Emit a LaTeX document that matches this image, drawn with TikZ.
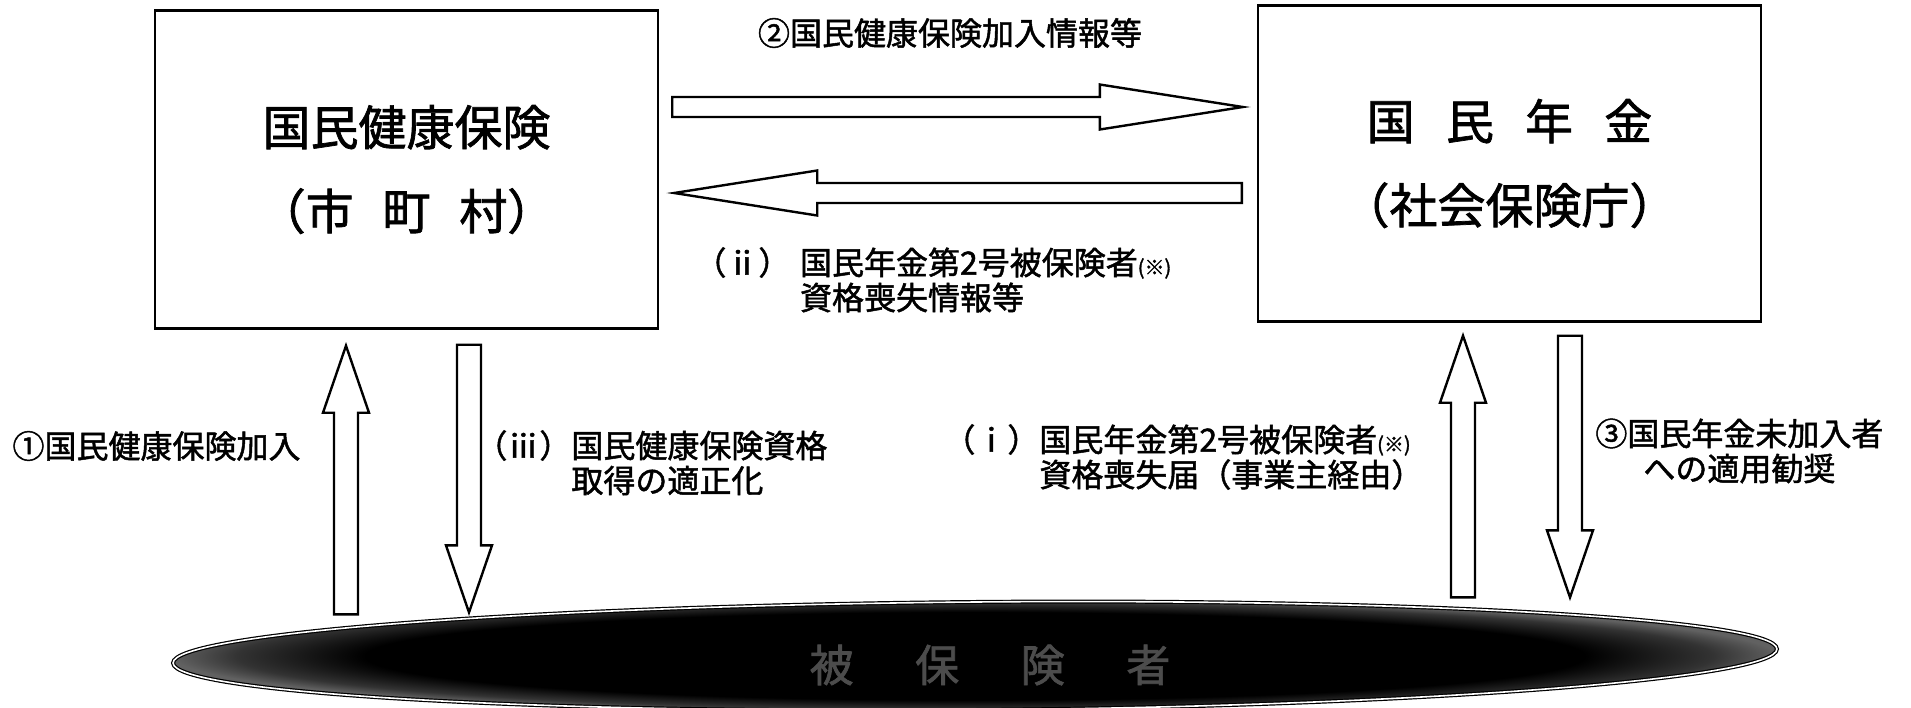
\documentclass[tikz,border=0pt]{standalone}
\usepackage{fontspec}
\setmainfont{Noto Sans CJK JP}[FakeBold=1.5]
\usetikzlibrary{calc,shapes.geometric}

\pgfdeclareradialshading{rim}{\pgfpoint{0bp}{0bp}}{color(0bp)=(black); color(19bp)=(black); color(23bp)=(black!80!white); color(25bp)=(black!62!white); color(50bp)=(black!62!white)}

\newcommand\fatarrow[5]{%
  \coordinate (hb) at ($(#2)!#5!(#1)$);
  \draw [fatarrow] ($(#1)!#3!90:(#2)$) -- ($(hb)!#3!90:(#2)$) -- ($(hb)!#4!90:(#2)$) -- (#2)
    -- ($(hb)!#4!-90:(#2)$) -- ($(hb)!#3!-90:(#2)$) -- ($(#1)!#3!-90:(#2)$) -- cycle;
}

\begin{document}
\begin{tikzpicture}[x=0.5pt, y=-0.5pt,
  orgbox/.style={draw, line width=1.2pt, minimum width=251.5pt, minimum height=159pt, align=center, inner sep=0pt, font=\fontsize{24}{42}\selectfont},
  fatarrow/.style={draw, fill=white, line width=1.2pt, line join=miter},
  note/.style={inner sep=0pt, align=left, font=\fontsize{16}{17.5}\selectfont}]

\useasboundingbox (0,0) rectangle (1911,707);

\node [orgbox] (nhi) at (406.5,169.5) {国民健康保険\\（市\hskip.6em町\hskip.6em村）};
\node [orgbox, minimum height=158pt] (npn) at (1509.5,163.5) {国\hskip.65em民\hskip.65em年\hskip.65em金\\（社会保険庁）};

\node [ellipse, draw=black, line width=.6pt, double=white, double distance=.8pt, shading=rim, minimum width=802pt, minimum height=54pt, inner sep=0pt, rotate=.5] (insd) at (975,656) {};
\node [font=\fontsize{22}{22}\selectfont, text=black!70!white, inner sep=0pt] (insdtxt) at ($(insd.center)+(15,9)$) {被\hskip1.4em保\hskip1.4em険\hskip1.4em者};

\coordinate (a2s) at ($(nhi.east)+(13,-62.5)$);
\coordinate (a2e) at ($(npn.west |- a2s)+(-14,0)$);
\fatarrow{a2s}{a2e}{5pt}{11.25pt}{71.5pt}
\coordinate (aiie) at ($(nhi.east)+(15,23.5)$);
\coordinate (aiis) at ($(npn.west |- aiie)+(-15,0)$);
\fatarrow{aiis}{aiie}{5pt}{11.25pt}{71.5pt}

\coordinate (a1e) at ($(nhi.south)+(-60.5,16)$);
\coordinate (a1s) at ($(a1e |- insd.north)+(0,13)$);
\fatarrow{a1s}{a1e}{6pt}{11.5pt}{33.5pt}
\coordinate (aiiis) at ($(nhi.south)+(62.5,15)$);
\coordinate (aiiie) at ($(aiiis |- insd.north)+(0,11)$);
\fatarrow{aiiis}{aiiie}{6pt}{11.5pt}{33.5pt}
\coordinate (aie) at ($(npn.south)+(-46.5,13)$);
\coordinate (ais) at ($(aie |- insd.north)+(0,-4)$);
\fatarrow{ais}{aie}{6pt}{11.5pt}{33.5pt}
\coordinate (a3s) at ($(npn.south)+(60.5,13)$);
\coordinate (a3e) at ($(a3s |- insd.north)+(0,-4)$);
\fatarrow{a3s}{a3e}{6pt}{11.5pt}{33.5pt}

\node [note] (lbl2) at (950,33) {②国民健康保険加入情報等};
\node [note, anchor=west] (lblii) at (694,280) {（ⅱ）\hskip.3em国民年金第2号被保険者{\fontsize{10}{10}\selectfont(※)}\\\phantom{（ⅱ）}\hskip.3em資格喪失情報等};
\node [note] (lbl1) at (156.5,446) {①国民健康保険加入};
\node [note, anchor=west] (lbliii) at (475,463) {（ⅲ）国民健康保険資格\\\phantom{（ⅲ）}取得の適正化};
\node [note, anchor=west] (lbli) at (943,457) {（ⅰ）国民年金第2号被保険者{\fontsize{10}{10}\selectfont(※)}\\\phantom{（ⅰ）}資格喪失届（事業主経由）};
\node [note, anchor=west] (lbl3) at (1595,451) {③国民年金未加入者\\\phantom{③}\hskip.5em への適用勧奨};

\end{tikzpicture}
\end{document}
